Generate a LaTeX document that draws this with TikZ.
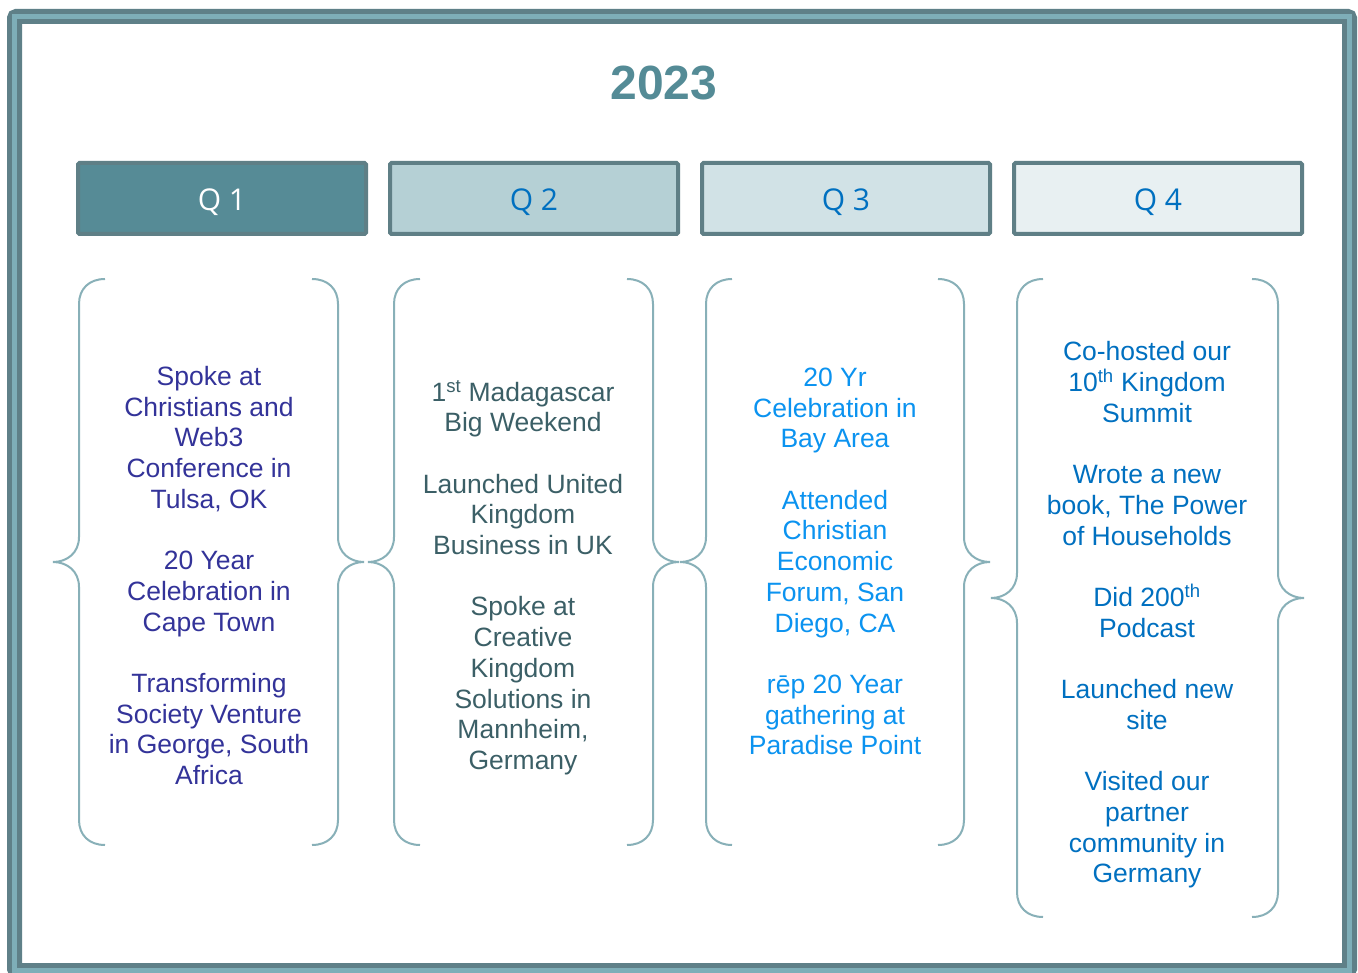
\documentclass[tikz,border=0pt]{standalone}
\usepackage{fontspec}
\setmainfont{Liberation Sans}
\newfontfamily\qfont{Open Sans}
\definecolor{framedark}{HTML}{5F8088}
\definecolor{framelight}{HTML}{7EAEB8}
\definecolor{titlecol}{HTML}{548B96}
\definecolor{qborder}{HTML}{5F7F86}
\definecolor{qonefill}{HTML}{568B96}
\definecolor{qtwofill}{HTML}{B5D0D5}
\definecolor{qthreefill}{HTML}{D1E2E6}
\definecolor{qfourfill}{HTML}{E8F0F2}
\definecolor{qtext}{HTML}{0070C0}
\definecolor{bracecol}{HTML}{88B0B8}
\definecolor{colone}{HTML}{333399}
\definecolor{coltwo}{HTML}{3B5F66}
\definecolor{colthree}{HTML}{0B93F0}
\definecolor{colfour}{HTML}{0070C0}
\newcommand{\mybraceL}[4]{% xv, top, mid, bot
  \draw[bracepath] ({#1+26},#2) .. controls ({#1+10},#2) and (#1,{#2+10}) .. (#1,{#2+25})
    -- (#1,{#3-25}) .. controls (#1,{#3-9}) and ({#1-12},#3) .. ({#1-26},#3)
    .. controls ({#1-12},#3) and (#1,{#3+9}) .. (#1,{#3+25})
    -- (#1,{#4-25}) .. controls (#1,{#4-10}) and ({#1+10},#4) .. ({#1+26},#4);}
\newcommand{\mybraceR}[4]{% xv, top, mid, bot
  \draw[bracepath] ({#1-26},#2) .. controls ({#1-10},#2) and (#1,{#2+10}) .. (#1,{#2+25})
    -- (#1,{#3-25}) .. controls (#1,{#3-9}) and ({#1+12},#3) .. ({#1+26},#3)
    .. controls ({#1+12},#3) and (#1,{#3+9}) .. (#1,{#3+25})
    -- (#1,{#4-25}) .. controls (#1,{#4-10}) and ({#1-10},#4) .. ({#1-26},#4);}
\begin{document}
\begin{tikzpicture}[x=1pt,y=-1pt,
  bracepath/.style={draw=bracecol,line width=2pt},
  qbox/.style={draw=qborder,line width=4pt,rounded corners=1.5pt,minimum width=288pt,minimum height=71pt,inner sep=0pt,text height=24.4pt,text depth=0pt,font=\qfont\fontsize{30}{36}\selectfont},
  coltext/.style={align=center,inner sep=0pt,font=\fontsize{26.5}{30.7}\selectfont}]
\useasboundingbox (0,0) rectangle (1358,973);
\fill[white] (0,0) rectangle (1358,973);
% frame
\draw[framedark,line width=15pt,rounded corners=2pt] (14.5,16.5) rectangle (1349.5,970.5);
\draw[framelight,line width=5pt] (14.5,16.5) rectangle (1349.5,970.5);
% title
\node[font=\bfseries\fontsize{48}{56}\selectfont,text=titlecol,inner sep=0pt] (title) at (664,83) {2023};
% quarter boxes
\node[qbox,fill=qonefill,text=white] (q1) at (222,198.5) {Q 1};
\node[qbox,fill=qtwofill,text=qtext] (q2) at (534,198.5) {Q 2};
\node[qbox,fill=qthreefill,text=qtext] (q3) at (846,198.5) {Q 3};
\node[qbox,fill=qfourfill,text=qtext] (q4) at (1158,198.5) {Q 4};
% braces
\mybraceL{79}{279}{562}{845}
\mybraceR{338}{279}{562}{845}
\mybraceL{394}{279}{562}{845}
\mybraceR{653}{279}{562}{845}
\mybraceL{706}{279}{562}{845}
\mybraceR{964}{279}{562}{845}
\mybraceL{1017}{279}{598}{917}
\mybraceR{1278}{279}{598}{917}
% column texts
\node[coltext,text=colone] (t1) at (209,575.5) {Spoke at\\Christians and\\Web3\\Conference in\\Tulsa, OK\\[30.7pt]20 Year\\Celebration in\\Cape Town\\[30.7pt]Transforming\\Society Venture\\in George, South\\Africa};
\node[coltext,text=coltwo] (t2) at (523,577.5) {1\textsuperscript{st} Madagascar\\Big Weekend\\[30.7pt]Launched United\\Kingdom\\Business in UK\\[30.7pt]Spoke at\\Creative\\Kingdom\\Solutions in\\Mannheim,\\Germany};
\node[coltext,text=colthree] (t3) at (835,561.5) {20 Yr\\Celebration in\\Bay Area\\[30.7pt]Attended\\Christian\\Economic\\Forum, San\\Diego, CA\\[30.7pt]rēp 20 Year\\gathering at\\Paradise Point};
\node[coltext,text=colfour] (t4) at (1147,615) {Co-hosted our\\10\textsuperscript{th} Kingdom\\Summit\\[30.7pt]Wrote a new\\book, The Power\\of Households\\[30.7pt]Did 200\textsuperscript{th}\\Podcast\\[30.7pt]Launched new\\site\\[30.7pt]Visited our\\partner\\community in\\Germany};
\end{tikzpicture}
\end{document}
